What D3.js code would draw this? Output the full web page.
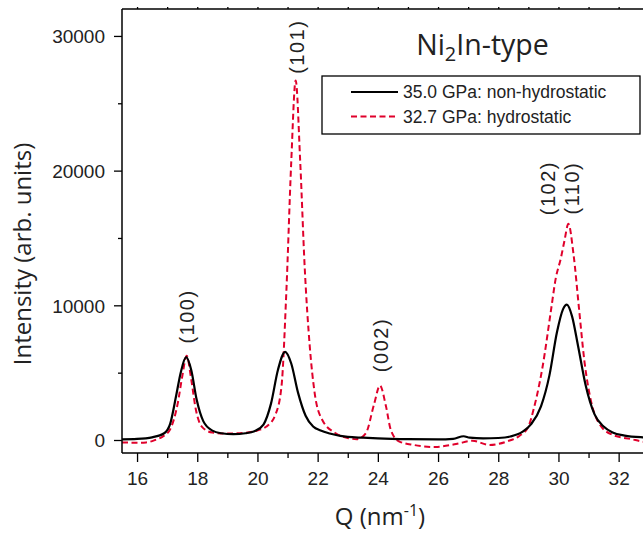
<!DOCTYPE html>
<html>
<head>
<meta charset="utf-8">
<script src="https://cdn.jsdelivr.net/npm/d3@7"></script>
<style>
  body { margin: 0; background: #fff; }
  svg { display: block; }
</style>
</head>
<body>
<div id="chart"></div>
<script>
// ---- data ----
// 35.0 GPa, non-hydrostatic (solid black)
const qBlack = [15.5, 16.0, 16.5, 16.9, 17.1, 17.3, 17.45, 17.63, 17.8, 17.98, 18.2, 18.5, 18.8, 19.2, 19.6, 19.9,
  20.2, 20.45, 20.68, 20.92, 21.12, 21.35, 21.6, 21.85, 22.1, 22.4, 23.0, 23.5, 24.0, 25.0, 26.0, 26.5, 26.85,
  27.05, 27.5, 28.0, 28.4, 28.8, 29.1, 29.42, 29.7, 29.95, 30.15, 30.28, 30.45, 30.65, 30.9, 31.2, 31.5, 31.8,
  32.2, 32.8, 33.0];
const iBlack = [50, 80, 200, 500, 1200, 3300, 5000, 6150, 5200, 3000, 1400, 700, 500, 430, 500, 650,
  1150, 2700, 5200, 6550, 5700, 3500, 1800, 1000, 700, 480, 230, 170, 120, 60, 40, 80, 280,
  170, 120, 150, 260, 600, 1200, 2500, 4800, 8000, 9700, 10050, 9200, 7000, 4100, 1900, 1000, 560,
  330, 200, 180];

// 32.7 GPa, hydrostatic (dashed red)
const qRed = [15.5, 16.0, 16.3, 16.6, 16.85, 17.1, 17.35, 17.5, 17.65, 17.8, 17.95, 18.15, 18.5, 19.0, 19.5, 19.9,
  20.3, 20.6, 20.8, 20.96, 21.12, 21.27, 21.42, 21.57, 21.74, 21.9, 22.15, 22.6, 23.0, 23.3, 23.6, 23.88, 24.07,
  24.27, 24.43, 24.7, 25.2, 25.9, 26.6, 27.15, 27.7, 28.3, 28.7, 29.0, 29.2, 29.47, 29.75, 29.91, 30.08, 30.2,
  30.33, 30.5, 30.69, 30.86, 31.08, 31.36, 31.8, 32.45, 32.8, 33.0];
const iRed = [-180, -200, -180, 0, 250, 800, 2700, 4700, 6250, 4500, 2300, 1000, 550, 480, 520, 650,
  1000, 1900, 4000, 11000, 20500, 26700, 20700, 12800, 6900, 3500, 1500, 500, 150, 60, 500, 2700, 4050,
  2500, 750, -100, -370, -520, -300, -60, -370, -100, 300, 1000, 2500, 5400, 9600, 12000, 13500, 14800,
  16050, 13800, 9600, 5900, 2900, 1200, 380, 50, -120, -180];

const seriesNames = ["35.0 GPa: non-hydrostatic", "32.7 GPa: hydrostatic"];
const xTicks = [16, 18, 20, 22, 24, 26, 28, 30, 32];
const yTicks = [0, 10000, 20000, 30000];

// peak labels: [text, Q position, intensity position]
const peakLabels = [["(100)", 17.65, 9170], ["(101)", 21.3, 29200], ["(002)", 24.09, 7050],
  ["(102)", 29.65, 18700], ["(110)", 30.44, 18700]];

// ---- chart ----
const W = 643, H = 535;
const plotLeft = 122, plotTop = 9, plotBottom = 453;

const svg = d3.select("#chart").append("svg")
  .attr("width", W)
  .attr("height", H);

const x = d3.scaleLinear().domain([15.5, 33.0]).range([plotLeft, plotLeft + 17.5 * 30.1]);
const y = d3.scaleLinear().domain([-965, 32000]).range([plotBottom, plotTop]);

svg.append("clipPath").attr("id", "plotClip")
  .append("rect")
  .attr("x", plotLeft).attr("y", plotTop)
  .attr("width", W - plotLeft).attr("height", plotBottom - plotTop);

const line = d3.line()
  .x(d => x(d[0]))
  .y(d => y(d[1]))
  .curve(d3.curveMonotoneX);

const plot = svg.append("g").attr("clip-path", "url(#plotClip)");

plot.append("path")
  .datum(qRed.map((q, i) => [q, iRed[i]]))
  .attr("fill", "none")
  .attr("stroke", "#e0002b")
  .attr("stroke-width", 2)
  .attr("stroke-dasharray", "6,3.5")
  .attr("d", line);

plot.append("path")
  .datum(qBlack.map((q, i) => [q, iBlack[i]]))
  .attr("fill", "none")
  .attr("stroke", "#000")
  .attr("stroke-width", 2.2)
  .attr("d", line);

// axes
const tickFont = "'Liberation Sans', Arial, sans-serif";

const xAxis = svg.append("g")
  .attr("transform", `translate(0,${plotBottom})`)
  .call(d3.axisBottom(x).tickValues(d3.range(16, 34, 1)).tickSize(5).tickFormat(""));
xAxis.selectAll(".tick line").filter(d => xTicks.includes(d)).attr("y2", 9);
xAxis.selectAll(".tick").filter(d => xTicks.includes(d))
  .append("text")
  .attr("y", 32)
  .attr("text-anchor", "middle")
  .attr("fill", "#222")
  .style("font-family", tickFont)
  .style("font-size", "19px")
  .text(d => d);

const yAxis = svg.append("g")
  .attr("transform", `translate(${plotLeft},0)`)
  .call(d3.axisLeft(y).tickValues([0, 5000, 10000, 15000, 20000, 25000, 30000]).tickSize(4).tickFormat(""));
yAxis.selectAll(".tick line").filter(d => yTicks.includes(d)).attr("x2", -8);
yAxis.selectAll(".tick").filter(d => yTicks.includes(d))
  .append("text")
  .attr("x", -17)
  .attr("dy", "0.36em")
  .attr("text-anchor", "end")
  .attr("fill", "#222")
  .style("font-family", tickFont)
  .style("font-size", "19px")
  .text(d => d);

// top border with tiny ticks
const topAxis = svg.append("g")
  .attr("transform", `translate(0,${plotTop})`)
  .call(d3.axisTop(x).tickValues(d3.range(16, 34, 1)).tickSize(2).tickFormat(""));

svg.selectAll(".domain").attr("stroke", "#000").attr("stroke-width", 1.5);
svg.selectAll(".tick line").attr("stroke", "#000").attr("stroke-width", 1.3);
xAxis.select(".domain").attr("d", `M${plotLeft},0H${W + 10}`);
topAxis.select(".domain").attr("d", `M${plotLeft},0H${W + 10}`);
yAxis.select(".domain").attr("d", `M0,${plotTop}V${plotBottom}`);

// axis titles
const titleFont = "'Open Sans', 'Noto Sans', sans-serif";
svg.append("text")
  .attr("transform", "translate(31,254) rotate(-90)")
  .attr("text-anchor", "middle")
  .attr("fill", "#222")
  .style("font-family", titleFont)
  .style("font-size", "24px")
  .text("Intensity (arb. units)");

const xTitle = svg.append("text")
  .attr("x", 380)
  .attr("y", 525)
  .attr("text-anchor", "middle")
  .attr("fill", "#222")
  .style("font-family", titleFont)
  .style("font-size", "24px");
xTitle.append("tspan").text("Q (nm");
xTitle.append("tspan").attr("dy", -9).style("font-size", "16px").text("-1");
xTitle.append("tspan").attr("dy", 9).text(")");

// structure title
const title = svg.append("text")
  .attr("x", 482.5)
  .attr("y", 55)
  .attr("text-anchor", "middle")
  .attr("fill", "#222")
  .style("font-family", titleFont)
  .style("font-size", "28.5px");
title.append("tspan").text("Ni");
title.append("tspan").attr("dy", 6).style("font-size", "20px").text("2");
title.append("tspan").attr("dy", -6).text("In-type");

// legend
const legend = svg.append("g");
legend.append("rect")
  .attr("x", 322).attr("y", 76)
  .attr("width", 318).attr("height", 58)
  .attr("fill", "#fff")
  .attr("stroke", "#000")
  .attr("stroke-width", 1.3);

const legendStyles = [{ stroke: "#000", dash: null, w: 2.2 }, { stroke: "#e0002b", dash: "6,3.5", w: 2 }];
seriesNames.forEach((name, i) => {
  const ly = 92 + i * 24.5;
  legend.append("line")
    .attr("x1", 351).attr("x2", 398)
    .attr("y1", ly).attr("y2", ly)
    .attr("stroke", legendStyles[i].stroke)
    .attr("stroke-width", legendStyles[i].w)
    .attr("stroke-dasharray", legendStyles[i].dash);
  legend.append("text")
    .attr("x", 403)
    .attr("y", ly)
    .attr("dy", "0.35em")
    .attr("fill", "#222")
    .style("font-family", tickFont)
    .style("font-size", "17.5px")
    .text(name);
});

// peak labels (rotated)
peakLabels.forEach(p => {
  svg.append("text")
    .attr("transform", `translate(${x(p[1])},${y(p[2])}) rotate(-90)`)
    .attr("text-anchor", "middle")
    .attr("dominant-baseline", "central")
    .attr("fill", "#222")
    .style("font-family", tickFont)
    .style("font-size", "20px")
    .style("letter-spacing", "1.5px")
    .text(p[0]);
});
</script>
</body>
</html>
